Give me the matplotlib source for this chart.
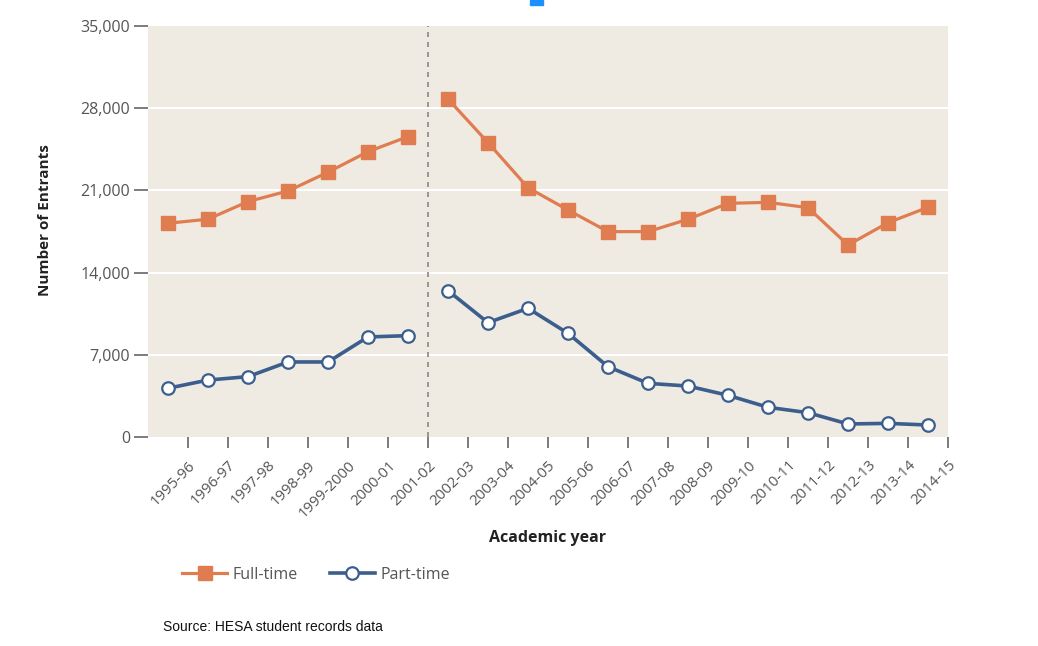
import matplotlib.pyplot as plt
from matplotlib.patches import Rectangle

# données (HESA)
annees = ['1995-96', '1996-97', '1997-98', '1998-99', '1999-2000', '2000-01', '2001-02',
          '2002-03', '2003-04', '2004-05', '2005-06', '2006-07', '2007-08', '2008-09',
          '2009-10', '2010-11', '2011-12', '2012-13', '2013-14', '2014-15']
temps_plein = [18200, 18550, 20050, 20950, 22550, 24300, 25580,
               28780, 25070, 21230, 19330, 17490, 17490, 18540,
               19900, 19980, 19530, 16350, 18250, 19560]
temps_partiel = [4150, 4850, 5140, 6390, 6390, 8520, 8630,
                 12460, 9740, 10960, 8830, 5990, 4570, 4340,
                 3550, 2530, 2070, 1110, 1160, 1020]
yticks = [0, 7000, 14000, 21000, 28000, 35000]
coupure = 6.5  # changement de série entre 2001-02 et 2002-03

orange = '#e07d50'
bleu = '#3c5e8c'
gris = '#555555'

plt.rcParams['font.family'] = ['Open Sans', 'DejaVu Sans']

fig = plt.figure(figsize=(10.38, 6.46), dpi=100)
ax = fig.add_axes([148/1038, 1-437/646, 800/1038, 411/646])
ax.set_facecolor('#efebe3')

x = list(range(len(annees)))
n1 = 7
# deux segments par série (rupture en 2001-02)
for debut, fin in [(0, n1), (n1, len(annees))]:
    ax.plot(x[debut:fin], temps_plein[debut:fin], color=orange, lw=2.3,
            marker='s', ms=9.5, mec=orange, mfc=orange, zorder=3,
            label='Full-time' if debut == 0 else None)
    ax.plot(x[debut:fin], temps_partiel[debut:fin], color=bleu, lw=2.6,
            marker='o', ms=9, mec=bleu, mfc='white', mew=1.6, zorder=3,
            label='Part-time' if debut == 0 else None)

ax.axvline(coupure, color='#888888', lw=1.2, ls=(0, (3, 3)), zorder=2)

ax.set_xlim(-0.5, 19.5)
ax.set_ylim(0, 35000)
ax.set_yticks(yticks)
ax.set_yticklabels([f'{v:,}' for v in yticks], fontsize=11.5, color=gris)
for v in yticks[1:-1]:
    ax.axhline(v, color='white', lw=1.5, zorder=1)

ax.set_xticks([i + 0.5 for i in x])
ax.set_xticklabels(annees, rotation=45, ha='right', rotation_mode='anchor',
                   fontsize=10.8, color=gris)
ax.tick_params(axis='x', length=8, width=1.2, color='#666666', pad=7)
ax.tick_params(axis='y', length=10, width=1.2, color='#666666', pad=3)
for s in ax.spines.values():
    s.set_visible(False)

fig.text(45/1038, 1-220/646, 'Number of Entrants', rotation=90, ha='center', va='center',
         fontsize=11, fontweight='bold', color='#222222')
fig.text(548/1038, 1-538/646, 'Academic year', ha='center', va='center',
         fontsize=11.5, fontweight='bold', color='#222222')

leg = fig.legend(loc='center left', bbox_to_anchor=(168/1038, 1-575/646), ncol=2,
                 frameon=False, fontsize=11.5, handlelength=2.8, columnspacing=2.0,
                 handletextpad=0.35)
for t in leg.get_texts():
    t.set_color(gris)

fig.text(163/1038, 1-627/646, 'Source: HESA student records data', ha='left', va='center',
         fontsize=10, color='#111111', family=['Liberation Sans', 'DejaVu Sans'])

# petit repère bleu en haut de l'image
fig.patches.append(Rectangle((530/1038, 1-5/646), 13/1038, 5/646,
                             transform=fig.transFigure, color='#1e8fff'))

fig.savefig('out.png', dpi=100, facecolor='white')
